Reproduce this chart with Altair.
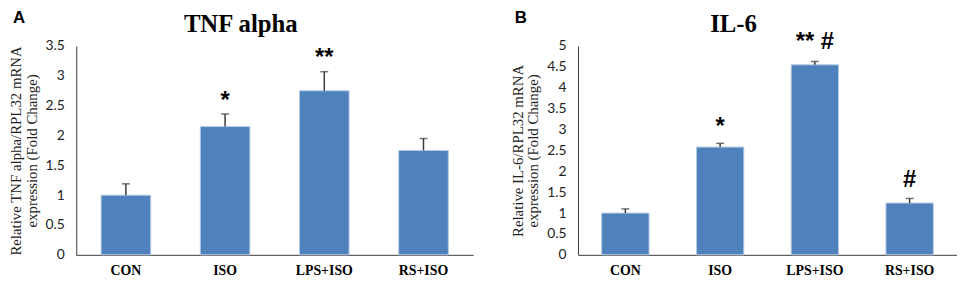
import altair as alt
import pandas as pd

categories = ["CON", "ISO", "LPS+ISO", "RS+ISO"]

tnf_mean = [1.0, 2.15, 2.75, 1.75]
tnf_err = [0.19, 0.21, 0.32, 0.20]
tnf_marks = ["", "*", "**", ""]
tnf_mark_y = [0, 2.58, 3.3, 0]

il6_mean = [1.0, 2.58, 4.55, 1.24]
il6_err = [0.10, 0.09, 0.08, 0.11]
il6_marks = ["", "*", "** #", "#"]
il6_mark_y = [0, 3.05, 5.1, 1.78]

BAR = "#4f81bd"
DARK = "#3a3a3a"


def panel(letter, title, ytitle, means, errs, marks, mark_y, ymax, width):
    df = pd.DataFrame({"cat": categories, "mean": means,
                       "top": [m + e for m, e in zip(means, errs)]})
    ann = pd.DataFrame({"cat": categories, "mark": marks, "y": mark_y})
    ann = ann[ann["mark"] != ""]

    xaxis = alt.Axis(labelAngle=0, labelFont="Liberation Serif",
                     labelFontWeight="bold", labelFontSize=14,
                     labelColor="#000", ticks=False, labelPadding=9,
                     domainColor=DARK, domainWidth=1)
    xscale = alt.Scale(paddingInner=0.5, paddingOuter=0.25)
    x = alt.X("cat:N", sort=categories, title=None, scale=xscale, axis=xaxis)
    yscale = alt.Scale(domain=[0, ymax], nice=False)
    yaxis = alt.Axis(values=[i * 0.5 for i in range(int(ymax * 2) + 1)],
                     format="~g", grid=False, ticks=False, labelOverlap=False,
                     labelFont="Lato", labelFontSize=14, labelColor="#222",
                     labelPadding=12, domainColor=DARK, domainWidth=1,
                     title=ytitle, titleFont="Liberation Serif",
                     titleFontWeight="normal", titleFontSize=15,
                     titleColor="#222", titleLineHeight=16, titlePadding=6)

    def Y(field):
        return alt.Y(field, scale=yscale, axis=yaxis, title=ytitle)

    base = alt.Chart(df)
    bars = base.mark_bar(color=BAR, stroke="#b8cce4", strokeWidth=1).encode(
        x=x, y=Y("mean:Q"))
    rule = base.mark_rule(color=DARK, strokeWidth=1.5).encode(
        x=x, y=Y("mean:Q"), y2="top:Q")
    cap = base.mark_tick(color=DARK, thickness=1.5, size=8,
                         orient="horizontal").encode(x=x, y=Y("top:Q"))
    txt = alt.Chart(ann).mark_text(font="Liberation Sans", fontSize=24,
                                   fontWeight="bold", color="#000",
                                   baseline="middle").encode(
        x=x, y=Y("y:Q"), text="mark:N")
    lab = alt.Chart(pd.DataFrame({"t": [letter]})).mark_text(
        font="Liberation Sans", fontSize=17, fontWeight="bold",
        align="left", baseline="top", color="#000").encode(
        x=alt.value(-64), y=alt.value(-36), text="t:N")

    return alt.layer(bars, rule, cap, txt, lab).properties(
        width=width, height=211,
        title=alt.TitleParams(title, font="Liberation Serif", fontSize=25,
                              fontWeight="bold", color="#000",
                              anchor="middle", frame="bounds", offset=0,
                              dy=28))


a = panel("A", "TNF alpha", ["Relative TNF alpha/RPL32  mRNA",
                             "expression (Fold Change)"],
          tnf_mean, tnf_err, tnf_marks, tnf_mark_y, 3.5, 401)
b = panel("B", "IL-6", ["Relative IL-6/RPL32  mRNA",
                        "expression (Fold Change)"],
          il6_mean, il6_err, il6_marks, il6_mark_y, 5, 383)

chart = alt.hconcat(a, b, spacing=37).properties(
    padding={"left": 0, "top": 0, "right": 0, "bottom": 0}
).configure_view(stroke=None)

chart.save("out.html", embed_options={"renderer": "svg", "actions": False})
